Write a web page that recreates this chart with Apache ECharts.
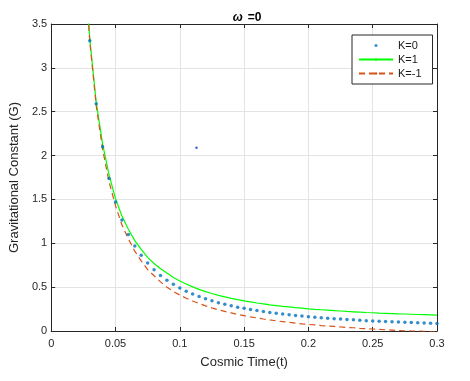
<!DOCTYPE html>
<html>
<head>
<meta charset="utf-8">
<script src="https://cdn.jsdelivr.net/npm/echarts@6/dist/echarts.min.js"></script>
<style>html,body{margin:0;padding:0;background:#fff}#c{width:470px;height:381px}</style>
</head>
<body>
<div id="c"></div>
<script>
// Cosmic time samples
const times = [0.025,0.030,0.035,0.040,0.045,0.050,0.055,0.060,0.065,0.070,0.075,0.080,0.085,0.090,0.095,0.100,
  0.105,0.110,0.115,0.120,0.125,0.130,0.135,0.140,0.145,0.150,0.155,0.160,0.165,0.170,0.175,0.180,0.185,0.190,0.195,0.200,
  0.205,0.210,0.215,0.220,0.225,0.230,0.235,0.240,0.245,0.250,0.255,0.260,0.265,0.270,0.275,0.280,0.285,0.290,0.295,0.300];
// K=0 (blue dots)
const gK0 = [4.41,3.31,2.59,2.10,1.74,1.47,1.265,1.10,0.97,0.863,0.774,0.698,0.634,0.579,0.532,0.491,
  0.454,0.422,0.393,0.367,0.344,0.323,0.305,0.288,0.272,0.258,0.245,0.233,0.222,0.211,0.202,0.193,0.185,0.177,0.170,0.163,
  0.157,0.151,0.146,0.141,0.136,0.131,0.127,0.122,0.118,0.115,0.111,0.108,0.105,0.102,0.099,0.096,0.093,0.091,0.088,0.086];
// K=1 (green line)
const gK1 = [4.42,3.33,2.61,2.13,1.78,1.51,1.31,1.16,1.03,0.93,0.84,0.77,0.71,0.66,0.61,0.57,
  0.535,0.503,0.475,0.449,0.427,0.406,0.389,0.372,0.357,0.343,0.331,0.319,0.309,0.298,0.290,0.281,0.274,0.266,0.260,0.253,
  0.247,0.242,0.237,0.232,0.228,0.223,0.219,0.215,0.211,0.208,0.204,0.202,0.199,0.196,0.194,0.191,0.188,0.186,0.184,0.182];
// K=-1 (red dashed line)
const gKm1 = [4.40,3.30,2.57,2.07,1.70,1.43,1.21,1.05,0.91,0.80,0.70,0.63,0.56,0.50,0.45,0.41,
  0.374,0.342,0.313,0.287,0.263,0.242,0.223,0.206,0.189,0.175,0.161,0.149,0.137,0.126,0.116,0.107,0.098,0.090,0.082,0.075,
  0.069,0.062,0.057,0.052,0.046,0.041,0.037,0.031,0.027,0.023,0.018,0.014,0.010,0.006,0.002,0.000,-0.002,-0.004,-0.006,-0.008];
// lone stray K=0 marker
const strayK0 = [[0.113, 2.09]];
const xTicks = [0, 0.05, 0.1, 0.15, 0.2, 0.25, 0.3];
const yTicks = [0, 0.5, 1, 1.5, 2, 2.5, 3, 3.5];
const seriesNames = ['K=0', 'K=1', 'K=-1'];

const pair = (ys) => times.map((t, i) => [t, ys[i]]);
const axisColor = '#262626';
const font = 'Liberation Sans, Arial, Helvetica, sans-serif';

const chart = echarts.init(document.getElementById('c'), null, {renderer: 'canvas'});
chart.setOption({
  animation: false,
  backgroundColor: '#fff',
  textStyle: {fontFamily: font},
  title: {
    text: '{i|ω} {b|=0}',
    left: 242, top: 4, textAlign: 'center',
    textStyle: {
      rich: {
        i: {fontStyle: 'italic', fontSize: 12, fontFamily: font, color: '#000'},
        b: {fontWeight: 'bold', fontSize: 12, fontFamily: font, color: '#000'}
      }
    }
  },
  grid: {left: 47, right: 33, top: 24, bottom: 50, containLabel: false},
  legend: {
    orient: 'vertical', left: 352, top: 35,
    data: seriesNames,
    itemWidth: 34, itemHeight: 3, itemGap: 3,
    padding: [5, 11, 5, 6],
    backgroundColor: '#fff', borderColor: axisColor, borderWidth: 1, borderRadius: 0,
    textStyle: {fontSize: 11, color: '#1a1a1a', fontFamily: font}
  },
  xAxis: [{
    type: 'value', min: 0, max: 0.3, interval: 0.05,
    name: 'Cosmic Time(t)', nameLocation: 'middle', nameGap: 25,
    nameTextStyle: {fontSize: 13, color: axisColor, fontFamily: font},
    axisLine: {show: true, lineStyle: {color: axisColor, width: 1}},
    axisTick: {show: true, inside: true, length: 4, lineStyle: {color: axisColor}},
    axisLabel: {fontSize: 11, color: axisColor, margin: 7, fontFamily: font,
      formatter: v => { const m = xTicks.find(t => Math.abs(t - v) < 1e-9); return m === undefined ? '' : String(m); }},
    splitLine: {show: true, lineStyle: {color: '#e3e3e3', width: 1}}
  }, {
    type: 'value', position: 'top', min: 0, max: 0.3, interval: 0.05,
    axisLine: {show: true, onZero: false, lineStyle: {color: axisColor, width: 1}},
    axisTick: {show: true, inside: true, length: 4, lineStyle: {color: axisColor}},
    axisLabel: {show: false}, splitLine: {show: false}
  }],
  yAxis: [{
    type: 'value', min: 0, max: 3.5, interval: 0.5,
    name: 'Gravitational Constant (G)', nameLocation: 'middle', nameGap: 27,
    nameTextStyle: {fontSize: 13, color: axisColor, fontFamily: font},
    axisLine: {show: true, lineStyle: {color: axisColor, width: 1}},
    axisTick: {show: true, inside: true, length: 4, lineStyle: {color: axisColor}},
    axisLabel: {fontSize: 11, color: axisColor, margin: 4, fontFamily: font,
      formatter: v => { const m = yTicks.find(t => Math.abs(t - v) < 1e-9); return m === undefined ? '' : String(m); }},
    splitLine: {show: true, lineStyle: {color: '#e3e3e3', width: 1}}
  }, {
    type: 'value', position: 'right', min: 0, max: 3.5, interval: 0.5,
    axisLine: {show: true, onZero: false, lineStyle: {color: axisColor, width: 1}},
    axisTick: {show: true, inside: true, length: 4, lineStyle: {color: axisColor}},
    axisLabel: {show: false}, splitLine: {show: false}
  }],
  series: [{
    name: seriesNames[0], type: 'scatter', data: pair(gK0),
    symbol: 'circle', symbolSize: 3.5, itemStyle: {color: '#0072BD'}, clip: true, z: 3
  }, {
    name: seriesNames[0], type: 'scatter', data: strayK0,
    symbol: 'circle', symbolSize: 2.5, itemStyle: {color: '#0040c0'}, clip: true, z: 3
  }, {
    name: seriesNames[1], type: 'line', data: pair(gK1), showSymbol: false, symbol: 'none',
    lineStyle: {color: '#00FF00', width: 1.2}, itemStyle: {color: '#00FF00'}, clip: true, z: 2
  }, {
    name: seriesNames[2], type: 'line', data: pair(gKm1), showSymbol: false, symbol: 'none',
    lineStyle: {color: '#D95319', width: 1.2, type: [6, 4]}, itemStyle: {color: '#D95319'}, clip: true, z: 2
  }]
});
</script>
</body>
</html>
